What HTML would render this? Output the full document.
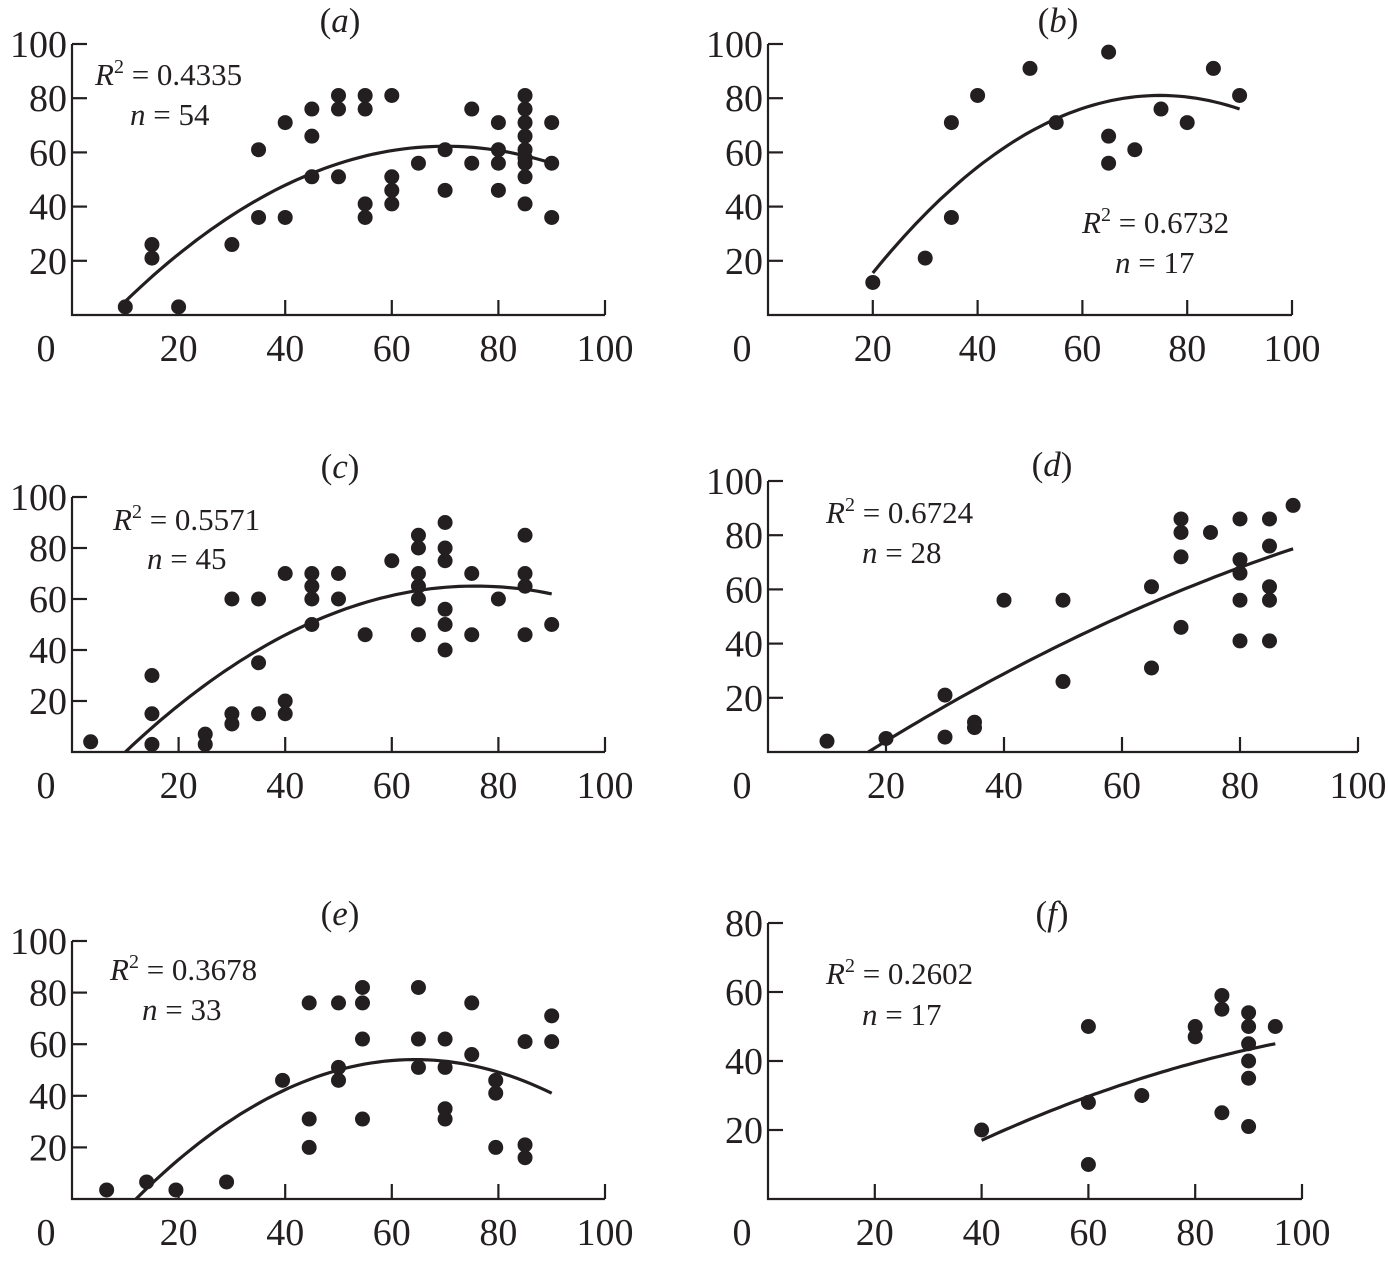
<!DOCTYPE html>
<html><head><meta charset="utf-8"><style>
body{margin:0;background:#fff;}
svg text{font-family:"Liberation Serif",serif;fill:#231f20;}
</style></head><body>
<svg id="chart" width="1388" height="1258" xmlns="http://www.w3.org/2000/svg"></svg>
<script>
const aX=[10,15,15,20,30,35,35,40,40,45,45,45,50,50,50,55,55,55,55,60,60,60,60,65,70,70,75,75,80,80,80,80,85,85,85,85,85,85,85,85,85,90,90,90];
const aY=[3,26,21,3,26,61,36,71,36,76,66,51,81,76,51,81,76,41,36,81,51,46,41,56,61,46,76,56,71,61,56,46,81,76,71,66,61,58,56,51,41,71,56,36];
const bX=[20,30,35,35,40,50,55,65,65,65,70,75,80,85,90];
const bY=[12,21,71,36,81,91,71,97,66,56,61,76,71,91,81];
const cX=[3.5,15,15,15,25,25,30,30,30,35,35,35,40,40,40,45,45,45,45,50,50,55,60,65,65,65,65,65,65,70,70,70,70,70,70,75,75,80,85,85,85,85,90];
const cY=[4,30,15,3,7,3,60,15,11,60,35,15,70,20,15,70,65,60,50,70,60,46,75,85,80,70,65,60,46,90,80,75,56,50,40,70,46,60,85,70,65,46,50];
const dX=[10,20,30,30,35,35,40,50,50,65,65,70,70,70,70,75,80,80,80,80,80,85,85,85,85,85,89];
const dY=[4,5,21,5.5,11,9,56,56,26,61,31,86,81,72,46,81,86,71,66,56,41,86,76,61,56,41,91];
const eX=[6.5,14,19.5,29,39.5,44.5,44.5,44.5,50,50,50,54.5,54.5,54.5,54.5,65,65,65,70,70,70,70,75,75,79.5,79.5,79.5,85,85,85,90,90];
const eY=[3.5,6.6,3.5,6.6,46,76,31,20,76,51,46,82,76,62,31,82,62,51,62,51,35,31,76,56,46,41,20,61,21,16,71,61];
const fX=[40,60,60,60,70,80,80,85,85,85,90,90,90,90,90,90,95];
const fY=[20,50,28,10,30,50,47,59,55,25,54,50,45,40,35,21,50];
// fit curves: three anchor points each (quadratic through them)
const aFitX=[10,66,90], aFitY=[5,62,56];
const bFitX=[20,74,90], bFitY=[15.5,81,76];
const cFitX=[10,78,90], cFitY=[0,65,62];
const dFitX=[17,50,89], dFitY=[0,40,75];
const eFitX=[12,63,90], eFitY=[0,54,41];
const fFitX=[40,70,95], fFitY=[17,35,45];
const xTicks=[20,40,60,80,100];
const yTicks100=[20,40,60,80,100];
const yTicks80=[20,40,60,80];
const stats=[["0.4335","54"],["0.6732","17"],["0.5571","45"],["0.6724","28"],["0.3678","33"],["0.2602","17"]];

const panels=[
 {id:'a',xs:aX,ys:aY,fx:aFitX,fy:aFitY,yt:yTicks100,ymax:100,x0:72,x1:605,y0:315,y1:44,title:[340,32],r:[95,85],n:[130,125]},
 {id:'b',xs:bX,ys:bY,fx:bFitX,fy:bFitY,yt:yTicks100,ymax:100,x0:768,x1:1292,y0:315,y1:44,title:[1058,32],r:[1082,233],n:[1115,273]},
 {id:'c',xs:cX,ys:cY,fx:cFitX,fy:cFitY,yt:yTicks100,ymax:100,x0:72,x1:605,y0:752,y1:497,title:[340,478],r:[113,530],n:[147,569]},
 {id:'d',xs:dX,ys:dY,fx:dFitX,fy:dFitY,yt:yTicks100,ymax:100,x0:768,x1:1358,y0:752,y1:481,title:[1052,476],r:[826,523],n:[862,563]},
 {id:'e',xs:eX,ys:eY,fx:eFitX,fy:eFitY,yt:yTicks100,ymax:100,x0:72,x1:605,y0:1199,y1:941,title:[340,925],r:[110,980],n:[142,1020]},
 {id:'f',xs:fX,ys:fY,fx:fFitX,fy:fFitY,yt:yTicks80,ymax:80,x0:768,x1:1302,y0:1199,y1:923,title:[1052,925],r:[826,984],n:[862,1025]}
];
const svg=document.getElementById('chart');
const NS='http://www.w3.org/2000/svg';
function mk(tag,attrs,parent){const e=document.createElementNS(NS,tag);for(const k in attrs)e.setAttribute(k,attrs[k]);parent.appendChild(e);return e;}
function quad(px,py,x){let s=0;for(let i=0;i<3;i++){let t=py[i];for(let j=0;j<3;j++)if(j!==i)t*=(x-px[j])/(px[i]-px[j]);s+=t;}return s;}
panels.forEach((p,pi)=>{
 const g=mk('g',{},svg);
 
 
 const sx=v=>p.x0+(p.x1-p.x0)*v/100;
 const sy=v=>p.y0-(p.y0-p.y1)*v/p.ymax;
 const ax=mk('path',{d:`M${p.x0},${p.y1}V${p.y0}H${p.x1}`,stroke:'#231f20','stroke-width':2.2,fill:'none'},g);
 
 
 p.yt.forEach(v=>{
  mk('line',{x1:p.x0,x2:p.x0+15,y1:sy(v),y2:sy(v),stroke:'#231f20','stroke-width':2.2},g);
  const t=mk('text',{x:p.x0-5,y:sy(v)+13,'text-anchor':'end','font-size':38},g);
  t.textContent=v;
  
  
 });
 xTicks.forEach(v=>{
  mk('line',{x1:sx(v),x2:sx(v),y1:p.y0,y2:p.y0-15,stroke:'#231f20','stroke-width':2.2},g);
  const t=mk('text',{x:sx(v),y:p.y0+46,'text-anchor':'middle','font-size':38},g);
  t.textContent=v;
  
  
 });
 const z=mk('text',{x:p.x0-26,y:p.y0+46,'text-anchor':'middle','font-size':38},g);
 z.textContent='0';
 
 
 const ti=mk('text',{x:p.title[0],y:p.title[1],'text-anchor':'middle','font-size':35},g);
 ti.innerHTML='(<tspan font-style="italic">'+p.id+'</tspan>)';
 
 
 const r=mk('text',{x:p.r[0],y:p.r[1],'font-size':31},g);
 r.innerHTML='<tspan font-style="italic">R</tspan><tspan font-size="20" dy="-12">2</tspan><tspan dy="12"> = '+stats[pi][0]+'</tspan>';
 
 
 const n=mk('text',{x:p.n[0],y:p.n[1],'font-size':31},g);
 n.innerHTML='<tspan font-style="italic">n</tspan> = '+stats[pi][1];
 
 
 let d='';const xa=p.fx[0],xb=p.fx[2];
 for(let i=0;i<=60;i++){const x=xa+(xb-xa)*i/60;d+=(i?'L':'M')+sx(x).toFixed(1)+','+sy(quad(p.fx,p.fy,x)).toFixed(1);}
 const c=mk('path',{d:d,stroke:'#231f20','stroke-width':3.2,fill:'none'},g);
 
 
 p.xs.forEach((x,i)=>{
  const dot=mk('circle',{cx:sx(x),cy:sy(p.ys[i]),r:7.5,fill:'#231f20'},g);
  
  
 });
});
</script>
</body></html>
